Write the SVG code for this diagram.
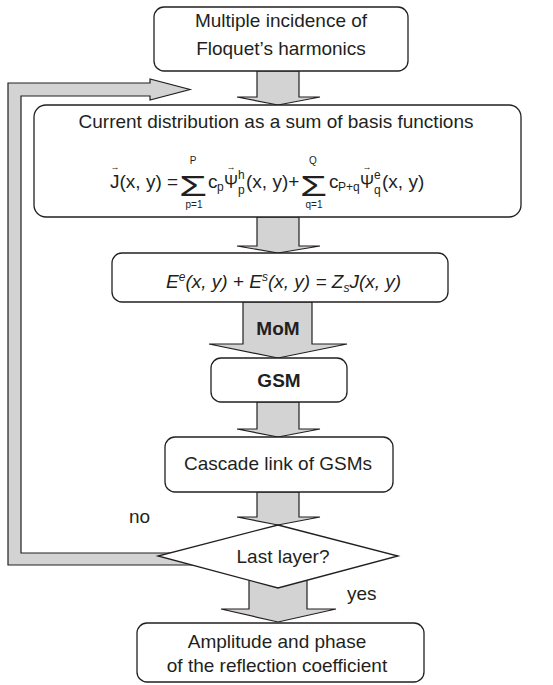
<svg xmlns="http://www.w3.org/2000/svg" width="553" height="685" viewBox="0 0 553 685">
<style>
.box{fill:#fff;stroke:#231f20;stroke-width:1.3}
.arr{fill:#d3d3d3;stroke:#231f20;stroke-width:1.2;stroke-linejoin:miter}
text{font-family:"Liberation Sans",Arial,sans-serif;font-size:19px;fill:#231f20}
.c{text-anchor:middle}
.b{font-weight:bold}
.sm{font-size:10px}
.sub{font-size:12px}
.sig{font-size:30px}
.vec{font-size:9px;text-anchor:middle}
.it{font-style:italic}
</style>
<rect width="553" height="685" fill="#fff"/>
<g id="connectors">
  <path class="arr" d="M8 565 V83 H150 V79 L190 89.5 L150 100 V96 H21 V553 H200 V565 Z"/>
  <path class="arr" d="M257 71 V97 H237 L278 105 L320 97 H299 V71 Z"/>
  <path class="arr" d="M257 217 V246 H237 L278 253 L320 246 H299 V217 Z"/>
  <path class="arr" d="M243 302 V344 H209 L278 358 L347 344 H312 V302 Z"/>
  <path class="arr" d="M257 402 V429 H237 L278 437 L320 429 H299 V402 Z"/>
  <path class="arr" d="M257 492 V517 H237 L278 525 L320 517 H299 V492 Z"/>
  <path class="arr" d="M249 575 V609 H221 L278 622 L336 609 H307 V575 Z"/>
  <text class="c b" x="278" y="335">MoM</text>
  <text x="129" y="523">no</text>
  <text x="347" y="600">yes</text>
</g>
<g id="n1">
  <rect class="box" x="154" y="7" width="254" height="64" rx="10"/>
  <text class="c" x="281" y="27">Multiple incidence of</text>
  <text class="c" x="281" y="55">Floquet’s harmonics</text>
</g>
<g id="n2">
  <rect class="box" x="34" y="105" width="487" height="112" rx="12"/>
  <text class="c" x="276" y="128">Current distribution as a sum of basis functions</text>
  <text class="vec" x="115" y="170">→</text>
  <text x="110" y="188">J(x, y) =</text>
  <text class="sig" x="179" y="196" textLength="28" lengthAdjust="spacingAndGlyphs">Σ</text>
  <text class="sm c" x="193" y="164">P</text>
  <text class="sm c" x="194" y="208">p=1</text>
  <text x="208" y="188">c</text>
  <text class="sub" x="217" y="191">p</text>
  <text class="vec" x="231" y="170">→</text>
  <text x="224" y="188" textLength="14" lengthAdjust="spacingAndGlyphs">Ψ</text>
  <text class="sub" x="238" y="179">h</text>
  <text class="sub" x="238" y="194">p</text>
  <text x="246" y="188">(x, y)+</text>
  <text class="sig" x="300" y="196" textLength="27" lengthAdjust="spacingAndGlyphs">Σ</text>
  <text class="sm c" x="313" y="164">Q</text>
  <text class="sm c" x="314" y="208">q=1</text>
  <text x="329" y="188">c</text>
  <text class="sub" x="338" y="191">P+q</text>
  <text class="vec" x="367" y="170">→</text>
  <text x="360" y="188" textLength="14" lengthAdjust="spacingAndGlyphs">Ψ</text>
  <text class="sub" x="374" y="179">e</text>
  <text class="sub" x="374" y="194">q</text>
  <text x="382" y="188">(x, y)</text>
</g>
<g id="n3">
  <rect class="box" x="112" y="253" width="336" height="49" rx="10"/>
  <text class="it" x="166" y="288">E<tspan class="sub" dy="-7">e</tspan><tspan dy="7">(x, y) + E</tspan><tspan class="sub" dy="-7">s</tspan><tspan dy="7">(x, y) = Z</tspan><tspan class="sub" dy="4">s</tspan><tspan dy="-4">J(x, y)</tspan></text>
</g>
<g id="n4">
  <rect class="box" x="211" y="358" width="136" height="44" rx="10"/>
  <text class="c b" x="279" y="387">GSM</text>
</g>
<g id="n5">
  <rect class="box" x="165" y="437" width="228" height="55" rx="10"/>
  <text class="c" x="278" y="470">Cascade link of GSMs</text>
</g>
<g id="n6">
  <polygon class="box" points="278,525 398,556 278,588 158,556"/>
  <text class="c" x="283" y="563">Last layer?</text>
</g>
<g id="n7">
  <rect class="box" x="137" y="623" width="287" height="59" rx="10"/>
  <text class="c" x="277" y="648">Amplitude and phase</text>
  <text class="c" x="277" y="672">of the reflection coefficient</text>
</g>
</svg>
